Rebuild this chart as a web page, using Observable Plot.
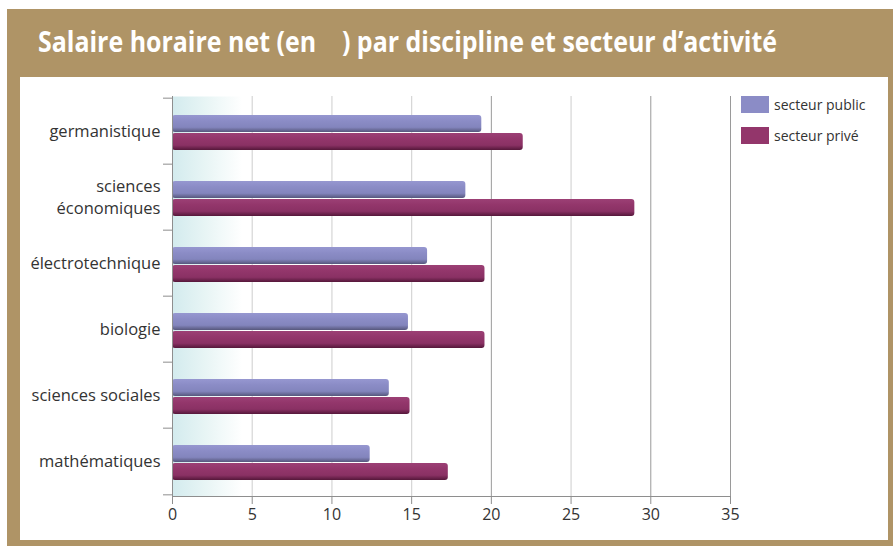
<!DOCTYPE html>
<html>
<head>
<meta charset="utf-8">
<script src="https://cdn.jsdelivr.net/npm/d3@7"></script>
<script src="https://cdn.jsdelivr.net/npm/@observablehq/plot@0.6"></script>
<style>
  html, body { margin: 0; padding: 0; background: #fff; }
  #page { position: relative; width: 893px; height: 546px; overflow: hidden; background: #fff; }
  #frame { position: absolute; left: 7px; top: 9px; width: 886px; height: 537px; background: #AF9466; }
  #title { position: absolute; left: 38px; top: 22px; line-height: 38px; color: #fff; font-family: "Open Sans", sans-serif; font-weight: 700; font-size: 28px; white-space: pre; transform-origin: 0 0; }
  #box { position: absolute; left: 20px; top: 77px; width: 868px; height: 463px; background: #fff; }
  #legend { position: absolute; left: 721px; top: 19px; font-family: "Open Sans", sans-serif; font-size: 14px; color: #333; }
  .item { display: flex; align-items: center; height: 17px; margin-bottom: 14px; }
  .sw { width: 28px; height: 17px; margin-right: 5px; }
</style>
</head>
<body>
<div id="page">
  <div id="frame"></div>
  <div id="title"></div>
  <div id="box"><div id="chart"></div><div id="legend"></div></div>
</div>
<script>
// ---- data ----
const titleText = "Salaire horaire net (en    ) par discipline et secteur d\u2019activit\u00e9";
const categories = ["germanistique", "sciences économiques", "électrotechnique", "biologie", "sciences sociales", "mathématiques"];
const categoryLabels = ["germanistique", "sciences\néconomiques", "électrotechnique", "biologie", "sciences sociales", "mathématiques"];
const seriesNames = ["secteur public", "secteur privé"];
const publicValues = [19.4, 18.4, 16.0, 14.8, 13.6, 12.4];
const priveValues = [22.0, 29.0, 19.6, 19.6, 14.9, 17.3];
const xTicks = [0, 5, 10, 15, 20, 25, 30, 35];

// ---- build ----
const titleEl = document.getElementById("title");
titleEl.textContent = titleText;
const tw = titleEl.getBoundingClientRect().width;
titleEl.style.transform = `scaleX(${739 / tw})`;

const rows = categories.flatMap((c, i) => [
  {cat: c, series: seriesNames[0], value: publicValues[i]},
  {cat: c, series: seriesNames[1], value: priveValues[i]}
]);
const labelOf = new Map(categories.map((c, i) => [c, categoryLabels[i]]));

const W = 868, H = 463;
const mL = 152, mR = 158, mT = 19, mB = 44;
const bw = (H - mT - mB) / categories.length;
const darkGrid = new Set([20, 30, 35]);
const axisGray = "#8e8e8e";

const chart = Plot.plot({
  width: W, height: H,
  marginLeft: mL, marginRight: mR, marginTop: mT, marginBottom: mB,
  style: {background: "transparent", fontFamily: "'Open Sans', sans-serif", color: "#333"},
  x: {domain: [0, 35], axis: null, label: null},
  y: {domain: categories, padding: 0, axis: null, label: null},
  marks: [
    Plot.frame({fill: "url(#bgGrad)", stroke: "none"}),
    Plot.ruleX(xTicks.filter(t => t > 0 && !darkGrid.has(t)), {stroke: "#d6d6d6", strokeWidth: 1.2}),
    Plot.ruleX(xTicks.filter(t => darkGrid.has(t)), {stroke: "#9a9a9a", strokeWidth: 1}),
    Plot.barX(rows.filter(d => d.series === seriesNames[0]), {x: "value", y: "cat", fill: "url(#gradPublic)", insetTop: 17, insetBottom: 32, rx: 3}),
    Plot.barX(rows.filter(d => d.series === seriesNames[1]), {x: "value", y: "cat", fill: "url(#gradPrive)", insetTop: 35, insetBottom: 14, rx: 3}),
    Plot.frame({anchor: "left", stroke: axisGray}),
    Plot.frame({anchor: "bottom", stroke: axisGray}),
    Plot.axisY({label: null, tickSize: 0, tickPadding: 12, dy: -2, tickFormat: d => labelOf.get(d), fontSize: 16.5, lineHeight: 1.33, fill: "#333"}),
    Plot.axisY({label: null, tickSize: 9, dy: -bw / 2, tickFormat: () => "", stroke: axisGray}),
    Plot.axisY([categories[categories.length - 1]], {label: null, tickSize: 9, dy: bw / 2, tickFormat: () => "", stroke: axisGray}),
    Plot.axisX(xTicks, {label: null, anchor: "bottom", tickSize: 8, tickPadding: 4, fontSize: 16, fill: "#333", stroke: axisGray})
  ]
});

const defs = d3.select(chart).insert("defs", ":first-child");
const bg = defs.append("linearGradient").attr("id", "bgGrad").attr("x1", 0).attr("x2", 1).attr("y1", 0).attr("y2", 0);
bg.append("stop").attr("offset", "0%").attr("stop-color", "#d3ebee");
bg.append("stop").attr("offset", "6%").attr("stop-color", "#e8f5f5");
bg.append("stop").attr("offset", "12.5%").attr("stop-color", "#ffffff");
bg.append("stop").attr("offset", "100%").attr("stop-color", "#ffffff");
function cyl(id, top, mid, low, bottom) {
  const g = defs.append("linearGradient").attr("id", id).attr("x1", 0).attr("x2", 0).attr("y1", 0).attr("y2", 1);
  g.append("stop").attr("offset", "0%").attr("stop-color", top);
  g.append("stop").attr("offset", "35%").attr("stop-color", mid);
  g.append("stop").attr("offset", "72%").attr("stop-color", low);
  g.append("stop").attr("offset", "100%").attr("stop-color", bottom);
}
cyl("gradPublic", "#9697d0", "#8b8cc6", "#8385bd", "#56577c");
cyl("gradPrive", "#9c4075", "#93366b", "#8a3164", "#55173a");

document.getElementById("chart").appendChild(chart);

const legend = document.getElementById("legend");
const swatch = ["#8b8cc6", "#93366b"];
seriesNames.forEach((s, i) => {
  const it = document.createElement("div");
  it.className = "item";
  it.innerHTML = `<div class="sw" style="background:${swatch[i]}"></div><span>${s}</span>`;
  legend.appendChild(it);
});
</script>
</body>
</html>
